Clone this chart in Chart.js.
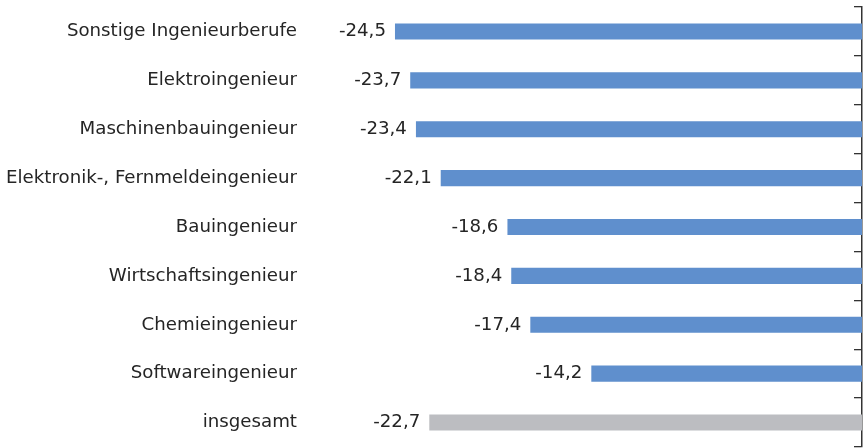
<!DOCTYPE html>
<html>
<head>
<meta charset="utf-8">
<script src="https://cdn.jsdelivr.net/npm/chart.js@4"></script>
<style>
  html, body { margin: 0; padding: 0; background: #fff; }
  #wrap { width: 867px; height: 448px; position: relative; }
</style>
</head>
<body>
<div id="wrap"><canvas id="balken"></canvas></div>
<script>
// Berufe und Veraenderung in Prozent
var berufe = [
    "Sonstige Ingenieurberufe",
    "Elektroingenieur",
    "Maschinenbauingenieur",
    "Elektronik-, Fernmeldeingenieur",
    "Bauingenieur",
    "Wirtschaftsingenieur",
    "Chemieingenieur",
    "Softwareingenieur",
    "insgesamt"
];
var werte = [-24.5, -23.7, -23.4, -22.1, -18.6, -18.4, -17.4, -14.2, -22.7];
var farben = ["#5f8fcd", "#5f8fcd", "#5f8fcd", "#5f8fcd", "#5f8fcd", "#5f8fcd", "#5f8fcd", "#5f8fcd", "#bcbdc1"];

var schrift = { family: "'DejaVu Sans', sans-serif", size: 18.2 };

// Werte links neben die Balken schreiben
var wertLabels = {
    id: 'wertLabels',
    afterDatasetsDraw: function(chart) {
        var ctx = chart.ctx;
        var meta = chart.getDatasetMeta(0);
        ctx.save();
        ctx.font = schrift.size + "px " + schrift.family;
        ctx.fillStyle = "#252525";
        ctx.textAlign = "right";
        ctx.textBaseline = "middle";
        meta.data.forEach(function(bar, i) {
            var txt = werte[i].toFixed(1).replace(".", ",");
            ctx.fillText(txt, bar.x - 9, bar.y);
        });
        ctx.restore();
    }
};

var chart = new Chart(document.getElementById("balken"), {
    type: 'bar',
    data: {
        labels: berufe,
        datasets: [{
            data: werte,
            backgroundColor: farben,
            barPercentage: 0.33,
            categoryPercentage: 1
        }]
    },
    plugins: [wertLabels],
    options: {
        indexAxis: 'y',
        responsive: true,
        maintainAspectRatio: false,
        animation: false,
        layout: { padding: { top: 7, bottom: 1, left: 0, right: 5 } },
        plugins: {
            legend: { display: false },
            tooltip: { enabled: false }
        },
        scales: {
            x: {
                display: false,
                min: -29.22,
                max: 0
            },
            y: {
                position: 'left',
                grid: { display: false, drawTicks: false },
                border: { display: false },
                ticks: { color: "#252525", font: schrift, padding: 8 },
                afterFit: function(scale) {
                    scale.width = 305;
                    scale.paddingTop = 0;
                    scale.paddingBottom = 0;
                }
            },
            y2: {
                type: 'category',
                axis: 'y',
                position: { x: 0 },
                offset: true,
                grid: {
                    offset: true,
                    drawOnChartArea: false,
                    drawTicks: true,
                    tickLength: 7,
                    color: "#333",
                    lineWidth: 1.3
                },
                border: { display: true, color: "#333", width: 1.5 },
                ticks: { display: false }
            }
        }
    }
});
</script>
</body>
</html>
